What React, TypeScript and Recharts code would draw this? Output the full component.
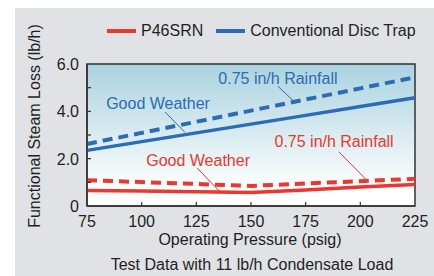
import React from 'react';
import { LineChart, Line, XAxis, YAxis, ReferenceArea, ReferenceDot, ReferenceLine, Legend } from 'recharts';

const pressure = [75, 100, 125, 150, 175, 200, 225];
const discGood = [2.35, 2.72, 3.09, 3.46, 3.83, 4.2, 4.57];
const discRain = [2.62, 3.09, 3.56, 4.03, 4.5, 4.97, 5.44];
const p46Good = [0.66, 0.63, 0.6, 0.57, 0.68, 0.8, 0.91];
const p46Rain = [1.09, 1.01, 0.93, 0.85, 0.95, 1.05, 1.15];
const xTicks = [75, 100, 125, 150, 175, 200, 225];
const yTicks = [0, 1, 2, 3, 4, 5, 6];

const data = pressure.map((p, i) => ({
  p,
  discGood: discGood[i],
  discRain: discRain[i],
  p46Good: p46Good[i],
  p46Rain: p46Rain[i],
}));

const BLUE = '#2b6cb4';
const RED = '#e8382f';
const TEXT = '#231f20';
const FONT = '"Liberation Sans", Arial, sans-serif';
const FS = 16;

const XTick = (props: any) => {
  const { x, y, payload } = props;
  const v = payload.value;
  return (
    <g>
      {v !== 75 && v !== 225 && (
        <line x1={x} x2={x} y1={y} y2={y - 4} stroke="#333" strokeWidth={1.2} />
      )}
      <text x={x} y={y + 20.5} textAnchor="middle" fill={TEXT} fontSize={FS} fontFamily={FONT}>
        {v}
      </text>
    </g>
  );
};

const YTick = (props: any) => {
  const { x, y, payload } = props;
  const v = payload.value;
  const show = v % 2 === 0;
  return (
    <g>
      {v !== 0 && v !== 6 && (
        <line x1={x} x2={x + 4} y1={y} y2={y} stroke="#333" strokeWidth={1.2} />
      )}
      {show && (
        <text x={x - 8} y={y + 6} textAnchor="end" fill={TEXT} fontSize={FS} fontFamily={FONT}>
          {v === 0 ? '0' : v.toFixed(1)}
        </text>
      )}
    </g>
  );
};

const legendItems = [
  { name: 'P46SRN', color: RED },
  { name: 'Conventional Disc Trap', color: BLUE },
];

const LegendContent = () => (
  <div style={{ display: 'flex', alignItems: 'center', fontFamily: FONT, fontSize: FS, color: TEXT, lineHeight: '18px' }}>
    {legendItems.map((it, i) => (
      <div key={it.name} style={{ display: 'flex', alignItems: 'center', marginLeft: i === 0 ? 0 : 13 }}>
        <div style={{ width: 29, height: 4, background: it.color, marginRight: 5 }} />
        <span>{it.name}</span>
      </div>
    ))}
  </div>
);

export default function App() {
  return (
    <div style={{ position: 'fixed', left: 0, top: 0, width: 434, height: 276, background: '#fff', overflow: 'hidden' }}>
      <div style={{ position: 'absolute', left: 15, top: 8, width: 419, height: 268, background: '#e1e2e6' }} />
      <svg width={0} height={0} style={{ position: 'absolute' }}>
        <defs>
          <linearGradient id="plotBg" x1="0" y1="0" x2="0" y2="1">
            <stop offset="0%" stopColor="#aad3e0" />
            <stop offset="90%" stopColor="#ffffff" />
            <stop offset="100%" stopColor="#ffffff" />
          </linearGradient>
        </defs>
      </svg>
      <div style={{ position: 'absolute', left: 0, top: 0 }}>
        <LineChart width={434} height={276} data={data} margin={{ top: 46, right: 19, bottom: 40, left: 27 }}>
          <ReferenceArea x1={75} x2={225} y1={0} y2={6} fill="url(#plotBg)" fillOpacity={1} stroke="#333" strokeWidth={1.5} ifOverflow="visible" />
          <XAxis
            dataKey="p"
            type="number"
            domain={[75, 225]}
            ticks={xTicks}
            height={30}
            axisLine={{ stroke: '#333', strokeWidth: 1.5 }}
            tickLine={false}
            tickSize={0}
            tickMargin={0}
            tick={<XTick />}
            interval={0}
          />
          <YAxis
            type="number"
            domain={[0, 6]}
            ticks={yTicks}
            width={60}
            axisLine={{ stroke: '#333', strokeWidth: 1.5 }}
            tickLine={false}
            tickSize={0}
            tickMargin={0}
            tick={<YTick />}
            interval={0}
          />
          <Legend verticalAlign="top" align="left" content={<LegendContent />} wrapperStyle={{ top: 22, left: 107, width: 327 }} />
          <Line dataKey="p46Good" name="P46SRN" stroke={RED} strokeWidth={3.5} dot={false} isAnimationActive={false} />
          <Line dataKey="p46Rain" stroke={RED} strokeWidth={4} strokeDasharray="10 6" dot={false} isAnimationActive={false} legendType="none" />
          <Line dataKey="discGood" name="Conventional Disc Trap" stroke={BLUE} strokeWidth={3.5} dot={false} isAnimationActive={false} />
          <Line dataKey="discRain" stroke={BLUE} strokeWidth={4} strokeDasharray="10 6" dot={false} isAnimationActive={false} legendType="none" />
          <ReferenceLine segment={[{ x: 162.3, y: 5.06 }, { x: 169.2, y: 4.46 }]} stroke={BLUE} strokeWidth={1} ifOverflow="visible" />
          <ReferenceLine segment={[{ x: 110.7, y: 3.97 }, { x: 119.8, y: 3.11 }]} stroke={BLUE} strokeWidth={1} ifOverflow="visible" />
          <ReferenceLine segment={[{ x: 125.3, y: 1.61 }, { x: 135.4, y: 0.64 }]} stroke={RED} strokeWidth={1} ifOverflow="visible" />
          <ReferenceLine segment={[{ x: 190.2, y: 2.29 }, { x: 202.6, y: 1.12 }]} stroke={RED} strokeWidth={1} ifOverflow="visible" />
          <ReferenceDot x={162.3} y={5.4} r={0} fill="none" stroke="none" ifOverflow="visible"
            label={{ value: '0.75 in/h Rainfall', position: 'center', fill: BLUE, fontSize: FS, fontFamily: FONT }} />
          <ReferenceDot x={107.5} y={4.35} r={0} fill="none" stroke="none" ifOverflow="visible"
            label={{ value: 'Good Weather', position: 'center', fill: BLUE, fontSize: FS, fontFamily: FONT }} />
          <ReferenceDot x={125.8} y={1.91} r={0} fill="none" stroke="none" ifOverflow="visible"
            label={{ value: 'Good Weather', position: 'center', fill: RED, fontSize: FS, fontFamily: FONT }} />
          <ReferenceDot x={188} y={2.74} r={0} fill="none" stroke="none" ifOverflow="visible"
            label={{ value: '0.75 in/h Rainfall', position: 'center', fill: RED, fontSize: FS, fontFamily: FONT }} />
        </LineChart>
      </div>
      <div style={{ position: 'absolute', left: 35, top: 126, transform: 'translate(-50%, -50%) rotate(-90deg)', whiteSpace: 'nowrap', fontFamily: FONT, fontSize: FS, color: TEXT, lineHeight: '18px' }}>
        Functional Steam Loss (lb/h)
      </div>
      <div style={{ position: 'absolute', left: 250, top: 240, transform: 'translate(-50%, -50%)', whiteSpace: 'nowrap', fontFamily: FONT, fontSize: FS, color: TEXT, lineHeight: '18px' }}>
        Operating Pressure (psig)
      </div>
      <div style={{ position: 'absolute', left: 252, top: 265, transform: 'translate(-50%, -50%)', whiteSpace: 'nowrap', fontFamily: FONT, fontSize: FS, color: TEXT, lineHeight: '18px' }}>
        Test Data with 11 lb/h Condensate Load
      </div>
    </div>
  );
}
